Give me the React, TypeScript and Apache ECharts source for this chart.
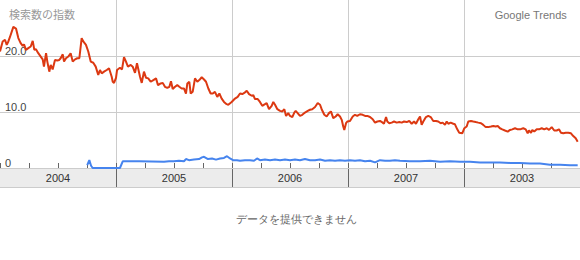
import React, { useEffect, useRef } from "react";
import * as echarts from "echarts";

// Decimal-year positions and values of the red series (index of searches)
const redT = [
  2004.0, 2004.023, 2004.043, 2004.058, 2004.072, 2004.086, 2004.115, 2004.138, 2004.158, 2004.178,
  2004.196, 2004.207, 2004.224, 2004.244, 2004.265, 2004.282, 2004.296, 2004.31, 2004.33, 2004.351,
  2004.368, 2004.379, 2004.397, 2004.408, 2004.425, 2004.437, 2004.454, 2004.474, 2004.494, 2004.511,
  2004.523, 2004.541, 2004.552, 2004.569, 2004.589, 2004.609, 2004.627, 2004.647, 2004.666, 2004.684,
  2004.704, 2004.718, 2004.741, 2004.761, 2004.782, 2004.804, 2004.825, 2004.847, 2004.862, 2004.877,
  2004.897, 2004.92, 2004.94, 2004.963, 2004.972, 2004.983, 2005.0, 2005.009, 2005.034, 2005.052,
  2005.069, 2005.086, 2005.103, 2005.127, 2005.144, 2005.164, 2005.181, 2005.207, 2005.222, 2005.241,
  2005.259, 2005.278, 2005.299, 2005.322, 2005.345, 2005.362, 2005.385, 2005.403, 2005.422, 2005.442,
  2005.46, 2005.474, 2005.489, 2005.509, 2005.528, 2005.546, 2005.566, 2005.586, 2005.603, 2005.615,
  2005.632, 2005.644, 2005.661, 2005.681, 2005.701, 2005.718, 2005.739, 2005.759, 2005.776, 2005.796,
  2005.816, 2005.834, 2005.853, 2005.873, 2005.891, 2005.911, 2005.931, 2005.954, 2005.968, 2005.997,
  2006.026, 2006.049, 2006.069, 2006.089, 2006.106, 2006.127, 2006.147, 2006.17, 2006.184, 2006.198,
  2006.222, 2006.241, 2006.261, 2006.284, 2006.299, 2006.319, 2006.342, 2006.356, 2006.371, 2006.391,
  2006.414, 2006.434, 2006.451, 2006.466, 2006.485, 2006.5, 2006.52, 2006.537, 2006.549, 2006.566,
  2006.586, 2006.606, 2006.629, 2006.653, 2006.672, 2006.692, 2006.716, 2006.739, 2006.759, 2006.773,
  2006.796, 2006.816, 2006.836, 2006.853, 2006.873, 2006.894, 2006.911, 2006.931, 2006.946, 2006.959,
  2006.968, 2006.983, 2006.994, 2007.017, 2007.041, 2007.06, 2007.08, 2007.103, 2007.127, 2007.147,
  2007.166, 2007.19, 2007.213, 2007.233, 2007.253, 2007.276, 2007.299, 2007.31, 2007.328, 2007.339,
  2007.356, 2007.377, 2007.397, 2007.42, 2007.442, 2007.463, 2007.483, 2007.506, 2007.528, 2007.549,
  2007.569, 2007.586, 2007.606, 2007.621, 2007.635, 2007.649, 2007.672, 2007.692, 2007.713, 2007.735,
  2007.759, 2007.778, 2007.799, 2007.816, 2007.836, 2007.851, 2007.865, 2007.885, 2007.908, 2007.922,
  2007.942, 2007.959, 2007.985, 2008.003, 2008.023, 2008.037, 2008.06, 2008.08, 2008.101, 2008.123,
  2008.147, 2008.166, 2008.187, 2008.209, 2008.233, 2008.253, 2008.273, 2008.291, 2008.31, 2008.33,
  2008.353, 2008.377, 2008.397, 2008.416, 2008.44, 2008.463, 2008.483, 2008.511, 2008.532, 2008.549,
  2008.56, 2008.578, 2008.589, 2008.606, 2008.627, 2008.647, 2008.67, 2008.692, 2008.713, 2008.733,
  2008.756, 2008.778, 2008.799, 2008.819, 2008.836, 2008.856, 2008.877, 2008.899, 2008.922, 2008.942,
  2008.963, 2008.98,
];
const redV = [
  20.8, 22.6, 22.9, 22.0, 22.6, 23.4, 25.2, 24.9, 23.2, 22.3,
  21.8, 22.1, 21.1, 21.4, 21.7, 22.7, 21.1, 21.2, 20.5, 19.9,
  19.4, 18.1, 20.5, 19.0, 17.2, 18.4, 17.6, 19.3, 19.2, 19.3,
  19.6, 20.3, 19.0, 19.6, 19.9, 20.5, 19.0, 19.4, 19.6, 19.6,
  23.2, 22.6, 22.0, 20.8, 19.0, 18.8, 18.1, 16.6, 17.5, 16.9,
  17.2, 17.5, 17.8, 16.3, 15.4, 15.2, 16.1, 17.5, 17.9, 17.6,
  19.8, 19.0, 18.1, 18.4, 18.1, 17.0, 18.7, 16.3, 15.2, 17.2,
  16.1, 16.0, 15.4, 15.7, 16.0, 14.8, 15.1, 15.2, 14.5, 14.3,
  14.5, 15.5, 14.1, 14.5, 14.8, 14.5, 14.2, 14.2, 13.3, 15.1,
  15.4, 13.3, 13.6, 16.0, 15.4, 15.7, 16.2, 15.8, 15.4, 14.2,
  13.3, 13.3, 13.6, 12.7, 13.3, 12.4, 11.8, 11.4, 11.3, 11.8,
  12.4, 12.7, 13.3, 13.2, 13.4, 13.8, 13.2, 12.9, 13.0, 12.3,
  12.3, 11.8, 11.1, 11.4, 11.6, 10.5, 11.1, 11.8, 11.3, 10.5,
  10.2, 10.1, 10.5, 9.3, 9.8, 9.3, 9.1, 9.9, 10.2, 9.8,
  9.3, 9.5, 9.9, 10.2, 10.4, 10.5, 10.9, 11.6, 11.3, 10.5,
  9.5, 9.2, 9.8, 10.1, 8.9, 9.2, 9.6, 9.2, 8.6, 7.4,
  6.8, 8.0, 8.3, 8.4, 9.2, 9.5, 9.3, 9.6, 9.5, 9.3,
  9.3, 9.1, 8.7, 8.1, 8.3, 8.4, 8.1, 7.9, 9.1, 8.3,
  8.0, 8.1, 8.3, 8.1, 8.2, 8.1, 8.3, 8.2, 8.4, 7.9,
  8.3, 7.9, 8.7, 9.2, 7.7, 8.3, 9.1, 9.3, 9.1, 8.4,
  8.4, 8.3, 8.0, 8.1, 7.7, 8.3, 7.9, 8.1, 7.9, 7.8,
  6.9, 6.3, 6.2, 7.1, 7.4, 8.3, 8.4, 8.3, 8.2, 8.1,
  8.0, 7.7, 7.3, 7.3, 7.4, 7.5, 7.4, 7.5, 7.1, 6.9,
  6.7, 6.5, 6.8, 6.9, 7.1, 6.9, 6.9, 7.1, 6.9, 6.2,
  6.7, 6.3, 6.8, 6.5, 6.9, 6.9, 7.1, 6.9, 7.1, 6.8,
  7.3, 6.7, 6.7, 6.9, 6.3, 6.2, 6.3, 6.3, 6.2, 5.7,
  5.3, 4.7,
];

// Blue series
const blueT = [
  2004.752, 2004.77, 2004.785, 2004.799, 2005.034, 2005.058, 2005.2, 2005.414, 2005.457, 2005.5,
  2005.543, 2005.586, 2005.603, 2005.629, 2005.672, 2005.716, 2005.741, 2005.759, 2005.793, 2005.828,
  2005.862, 2005.897, 2005.931, 2005.957, 2005.983, 2006.009, 2006.043, 2006.069, 2006.112, 2006.155,
  2006.19, 2006.216, 2006.241, 2006.284, 2006.328, 2006.371, 2006.414, 2006.457, 2006.5, 2006.543,
  2006.586, 2006.629, 2006.672, 2006.716, 2006.759, 2006.802, 2006.845, 2006.888, 2006.931, 2006.974,
  2007.017, 2007.06, 2007.103, 2007.147, 2007.19, 2007.233, 2007.276, 2007.319, 2007.362, 2007.405,
  2007.448, 2007.534, 2007.621, 2007.707, 2007.793, 2007.879, 2007.966, 2008.052, 2008.138, 2008.224,
  2008.31, 2008.397, 2008.483, 2008.569, 2008.655, 2008.741, 2008.828, 2008.914, 2008.98,
];
const blueV = [
  0.5, 1.4, 0.4, 0.0, 0.0, 1.2, 1.2, 1.1, 1.2, 1.2,
  1.3, 1.2, 1.6, 1.4, 1.5, 1.6, 1.9, 2.0, 1.6, 1.7,
  1.5, 1.7, 1.8, 2.1, 1.7, 1.4, 1.4, 1.3, 1.4, 1.4,
  1.3, 1.7, 1.4, 1.5, 1.4, 1.5, 1.4, 1.5, 1.4, 1.5,
  1.4, 1.6, 1.4, 1.4, 1.5, 1.3, 1.4, 1.3, 1.4, 1.3,
  1.4, 1.3, 1.4, 1.2, 1.3, 1.0, 1.4, 1.3, 1.3, 1.4,
  1.3, 1.2, 1.2, 1.3, 1.1, 1.2, 1.1, 1.1, 1.0, 1.0,
  1.0, 0.9, 0.9, 0.8, 0.8, 0.6, 0.6, 0.5, 0.5,
];

const yearLabels = ["2004", "2005", "2006", "2007", "2003"];
const yTicks = [0, 10, 20];

export default function App() {
  const ref = useRef<HTMLDivElement>(null);

  useEffect(() => {
    document.body.style.margin = "0";
    const chart = echarts.init(ref.current!, undefined, { renderer: "svg" });
    const option: any = {
      animation: false,
      backgroundColor: "#ffffff",
      title: [
        {
          text: "検索数の指数",
          left: 4,
          top: 3,
          textStyle: {
            fontSize: 11,
            fontWeight: "normal",
            color: "#999999",
            fontFamily: "Noto Sans CJK JP",
          },
        },
        {
          text: "Google Trends",
          right: 8,
          top: 4,
          textStyle: {
            fontSize: 11,
            fontWeight: "normal",
            color: "#777777",
            fontFamily: "Liberation Sans, Arial, sans-serif",
          },
        },
      ],
      grid: [
        { left: 0, right: 0, top: 0, height: 168, containLabel: false },
        {
          left: 0,
          right: 0,
          top: 169,
          height: 18,
          show: true,
          backgroundColor: "#ececec",
          borderWidth: 0,
        },
      ],
      xAxis: [
        {
          type: "value",
          gridIndex: 0,
          min: 2004,
          max: 2009,
          interval: 1,
          axisLabel: { show: false },
          axisLine: { show: true, lineStyle: { color: "#cccccc", width: 1 } },
          axisTick: { show: true, inside: true, length: 5, lineStyle: { color: "#666666" } },
          minorTick: { show: true, splitNumber: 4, length: 5, lineStyle: { color: "#666666" } },
          splitLine: {
            show: true,
            showMinLine: false,
            showMaxLine: false,
            lineStyle: { color: "#cccccc", width: 1 },
          },
        },
        {
          type: "category",
          gridIndex: 1,
          data: yearLabels,
          boundaryGap: true,
          axisLine: { show: true, lineStyle: { color: "#cccccc" } },
          axisTick: { show: false },
          axisLabel: {
            inside: true,
            margin: 9,
            verticalAlign: "middle",
            fontSize: 11,
            color: "#333333",
            fontFamily: "Liberation Sans, Arial, sans-serif",
          },
          splitLine: {
            show: true,
            interval: 0,
            showMinLine: false,
            showMaxLine: false,
            lineStyle: { color: "#666666", width: 1 },
          },
        },
      ],
      yAxis: [
        {
          type: "value",
          gridIndex: 0,
          min: 0,
          max: 30,
          interval: 10,
          axisLine: { show: false },
          axisTick: { show: false },
          axisLabel: {
            inside: true,
            margin: 5,
            verticalAlign: "bottom",
            fontSize: 11,
            color: "#444444",
            fontFamily: "Liberation Sans, Arial, sans-serif",
            formatter: (v: number) =>
              yTicks.indexOf(v) < 0 ? "" : v === 0 ? "0" : v.toFixed(1),
          },
          splitLine: {
            show: true,
            showMaxLine: false,
            lineStyle: { color: "#cccccc", width: 1 },
          },
        },
        {
          type: "value",
          gridIndex: 1,
          show: false,
        },
      ],
      series: [
        {
          type: "line",
          xAxisIndex: 0,
          yAxisIndex: 0,
          data: blueT.map((t, i) => [t, blueV[i]]),
          showSymbol: false,
          lineStyle: { color: "#4684ee", width: 2 },
          itemStyle: { color: "#4684ee" },
          z: 3,
        },
        {
          type: "line",
          xAxisIndex: 0,
          yAxisIndex: 0,
          data: redT.map((t, i) => [t, redV[i]]),
          showSymbol: false,
          lineStyle: { color: "#dc3912", width: 2 },
          itemStyle: { color: "#dc3912" },
          z: 4,
        },
      ],
      graphic: [
        {
          type: "text",
          left: 236,
          top: 213,
          style: {
            text: "データを提供できません",
            fontSize: 11,
            fill: "#666666",
            fontFamily: "serif",
          },
        },
      ],
    };
    chart.setOption(option);
    return () => chart.dispose();
  }, []);

  return <div ref={ref} style={{ width: 580, height: 260 }} />;
}
